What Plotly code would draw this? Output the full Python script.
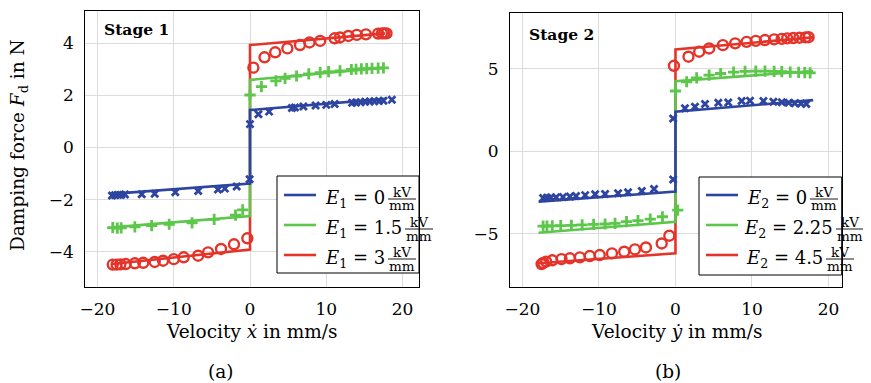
import plotly.graph_objects as go

# ---------------- data ----------------
# Stage 1 model lines (velocity in mm/s, force in N)
line1_v = [-18.1, 0.0, 0.0, 17.7]
line1_E0 = [-1.78, -1.38, 1.44, 1.87]
line1_E15 = [-3.07, -2.63, 2.60, 3.07]
line1_E3 = [-4.48, -3.92, 3.94, 4.39]

# Stage 1 measurements
meas1_E0_v = [-18.1, -17.7, -17.3, -16.9, -16.4, -14.2, -12.5, -9.8, -6.8, -4.2, -3.3, -1.75, -0.05,
              0.0, 1.1, 2.5, 5.5, 5.9, 7.0, 8.6, 10.0, 11.1, 13.4, 13.9, 14.5, 15.1, 15.7, 16.3, 16.9, 17.5, 18.6]
meas1_E0_F = [-1.84, -1.83, -1.82, -1.82, -1.81, -1.80, -1.78, -1.72, -1.67, -1.61, -1.58, -1.50, -1.22,
              0.90, 1.28, 1.38, 1.52, 1.54, 1.58, 1.62, 1.64, 1.67, 1.72, 1.73, 1.74, 1.76, 1.77, 1.78, 1.79, 1.80, 1.84]
meas1_E15_v = [-18.0, -17.4, -16.9, -15.1, -12.9, -10.6, -7.6, -4.7, -1.9, -0.96,
               0.0, 1.5, 3.4, 4.6, 6.1, 7.7, 9.2, 10.3, 11.8, 13.3, 13.9, 14.6, 15.3, 16.0, 16.8, 17.5]
meas1_E15_F = [-3.08, -3.10, -3.09, -3.05, -3.00, -2.95, -2.90, -2.76, -2.60, -2.40,
               2.02, 2.34, 2.56, 2.66, 2.75, 2.83, 2.88, 2.92, 2.95, 3.00, 3.01, 3.02, 3.03, 3.04, 3.05, 3.06]
meas1_E3_v = [-18.0, -17.5, -17.0, -16.3, -15.1, -14.0, -12.5, -11.4, -10.0, -8.7, -6.8, -5.5, -3.8, -2.1, -0.35,
              0.44, 1.9, 3.3, 4.9, 6.55, 7.8, 9.2, 11.1, 11.8, 12.9, 14.0, 15.2, 16.8, 17.3, 17.6, 17.9]
meas1_E3_F = [-4.50, -4.50, -4.49, -4.48, -4.45, -4.43, -4.40, -4.35, -4.29, -4.22, -4.16, -4.03, -3.90, -3.72, -3.49,
              3.07, 3.47, 3.66, 3.81, 3.94, 4.04, 4.10, 4.20, 4.23, 4.29, 4.33, 4.35, 4.38, 4.39, 4.39, 4.39]

# Stage 2 model lines
line2_v = [-17.9, 0.0, 0.0, 18.0]
line2_E0 = [-3.07, -2.46, 2.38, 3.09]
line2_E225 = [-4.95, -4.28, 4.24, 4.85]
line2_E45 = [-6.80, -6.20, 6.16, 6.89]

# Stage 2 measurements
meas2_E0_v = [-17.3, -16.8, -16.3, -15.6, -14.7, -13.8, -13.0, -11.8, -10.5, -9.2, -7.5, -6.2, -4.4, -2.8, -0.3,
              -0.3, 1.24, 2.55, 3.86, 5.6, 6.9, 8.65, 9.74, 11.5, 12.8, 13.9, 14.8, 15.6, 16.4, 17.1]
meas2_E0_F = [-2.85, -2.83, -2.82, -2.80, -2.78, -2.75, -2.72, -2.67, -2.62, -2.60, -2.56, -2.50, -2.42, -2.30, -1.72,
              1.98, 2.59, 2.69, 2.85, 2.93, 2.95, 3.03, 3.05, 3.03, 2.99, 2.96, 2.93, 2.90, 2.88, 2.85]
meas2_E225_v = [-17.3, -16.8, -16.1, -15.0, -13.6, -12.2, -10.7, -9.2, -7.9, -6.4, -4.9, -3.3, -1.7, 0.3,
                0.0, 1.46, 2.77, 4.4, 5.9, 7.6, 9.1, 10.5, 11.7, 12.9, 13.9, 15.0, 16.1, 16.9, 17.6]
meas2_E225_F = [-4.55, -4.54, -4.53, -4.52, -4.50, -4.47, -4.44, -4.42, -4.38, -4.28, -4.22, -4.12, -3.98, -3.58,
                3.64, 4.20, 4.44, 4.60, 4.70, 4.79, 4.83, 4.85, 4.85, 4.83, 4.81, 4.79, 4.77, 4.75, 4.74]
meas2_E45_v = [-17.5, -17.3, -16.9, -16.1, -14.9, -13.8, -12.5, -11.2, -9.9, -8.3, -6.7, -5.3, -3.86, -1.8, -0.8,
               -0.2, 1.7, 3.1, 4.4, 6.2, 7.8, 9.3, 10.5, 11.7, 12.9, 13.9, 14.6, 15.4, 16.2, 17.0, 17.4]
meas2_E45_F = [-6.85, -6.78, -6.70, -6.62, -6.55, -6.50, -6.44, -6.36, -6.30, -6.20, -6.10, -5.96, -5.84, -5.60, -5.13,
               5.17, 5.72, 6.02, 6.22, 6.42, 6.53, 6.62, 6.68, 6.73, 6.77, 6.80, 6.83, 6.85, 6.87, 6.89, 6.90]

x_ticks = [-20, -10, 0, 10, 20]
y1_ticks = [-4, -2, 0, 2, 4]
y2_ticks = [-5, 0, 5]
legend1_labels = ["0", "1.5", "3"]
legend2_labels = ["0", "2.25", "4.5"]

# ---------------- style ----------------
BLUE = "#2d44a0"
GREEN = "#5cc74a"
RED = "#e4342a"
FONT = "DejaVu Serif"
OFF = 8  # page body margin
W, H = 871 - OFF, 383 - OFF


def px(x):
    return (x - OFF) / W


def py(y):
    return 1 - (y - OFF) / H


fig = go.Figure()


def add_panel(xa, ya, lv, lines, meas):
    for (ly, col) in reversed(lines):
        fig.add_trace(go.Scatter(x=lv, y=ly, mode="lines", line=dict(color=col, width=2.6),
                                 xaxis=xa, yaxis=ya, showlegend=False, hoverinfo="skip"))
    for (mv, mf, col, sym, size, lw) in reversed(meas):
        fig.add_trace(go.Scatter(x=mv, y=mf, mode="markers",
                                 marker=dict(symbol=sym, size=size, color=col,
                                             line=dict(color=col, width=lw)),
                                 xaxis=xa, yaxis=ya, showlegend=False, hoverinfo="skip"))


add_panel("x", "y", line1_v,
          [(line1_E0, BLUE), (line1_E15, GREEN), (line1_E3, RED)],
          [(meas1_E0_v, meas1_E0_F, BLUE, "x-thin", 7, 2.8),
           (meas1_E15_v, meas1_E15_F, GREEN, "cross-thin", 8, 2.8),
           (meas1_E3_v, meas1_E3_F, RED, "circle-open", 10, 2.4)])
add_panel("x2", "y2", line2_v,
          [(line2_E0, BLUE), (line2_E225, GREEN), (line2_E45, RED)],
          [(meas2_E0_v, meas2_E0_F, BLUE, "x-thin", 7, 2.8),
           (meas2_E225_v, meas2_E225_F, GREEN, "cross-thin", 8, 2.8),
           (meas2_E45_v, meas2_E45_F, RED, "circle-open", 10, 2.4)])

axis_common = dict(showgrid=True, gridcolor="#dcdcdc", gridwidth=1, zeroline=False,
                   showline=True, linecolor="black", linewidth=1.2, mirror=True,
                   ticks="", automargin=False, ticklabelstandoff=7,
                   tickfont=dict(family=FONT, size=17, color="black"))

shapes = []
annotations = []


def legend(box, line_x, rows, frac_centers, sub, labels):
    x0, y0, x1, y1 = box
    shapes.append(dict(type="rect", xref="paper", yref="paper", x0=px(x0), x1=px(x1), y0=py(y0), y1=py(y1),
                       line=dict(color="black", width=1), fillcolor="white", layer="above"))
    for (ry, fc, lab, col) in zip(rows, frac_centers, labels, [BLUE, GREEN, RED]):
        shapes.append(dict(type="line", xref="paper", yref="paper", x0=px(line_x[0]), x1=px(line_x[1]),
                           y0=py(ry), y1=py(ry), line=dict(color=col, width=2.6), layer="above"))
        annotations.append(dict(xref="paper", yref="paper", x=px(fc - 15), y=py(ry + 4), xanchor="right",
                                yanchor="middle", showarrow=False,
                                text=f"<i>E</i><sub>{sub}</sub> = {lab}",
                                font=dict(family=FONT, size=18, color="black")))
        shapes.append(dict(type="line", xref="paper", yref="paper", x0=px(fc - 14), x1=px(fc + 14),
                           y0=py(ry + 4), y1=py(ry + 4), line=dict(color="black", width=0.9), layer="above"))
        annotations.append(dict(xref="paper", yref="paper", x=px(fc), y=py(ry - 3.5), xanchor="center",
                                yanchor="middle", showarrow=False, text="kV", borderpad=0,
                                font=dict(family=FONT, size=13.5, color="black")))
        annotations.append(dict(xref="paper", yref="paper", x=px(fc), y=py(ry + 10.5), xanchor="center",
                                yanchor="middle", showarrow=False, text="mm", borderpad=0,
                                font=dict(family=FONT, size=13.5, color="black")))


legend((277, 176, 419, 273), (284, 316), [195, 225, 255], [402, 419, 402], "1", legend1_labels)
legend((699, 177, 841.7, 275), (706, 738), [195, 225, 255], [824, 850, 840], "2", legend2_labels)

txt = dict(family=FONT, size=18.5, color="black")
annotations += [
    dict(xref="paper", yref="paper", x=px(102), y=py(29), xanchor="left", yanchor="middle", showarrow=False,
         text="<b>Stage 1</b>", font=dict(family=FONT, size=15.5, color="black")),
    dict(xref="paper", yref="paper", x=px(527), y=py(34), xanchor="left", yanchor="middle", showarrow=False,
         text="<b>Stage 2</b>", font=dict(family=FONT, size=15.5, color="black")),
    dict(xref="paper", yref="paper", x=px(252), y=py(331), xanchor="center", yanchor="middle", showarrow=False,
         text="Velocity <i>ẋ</i> in mm/s", font=txt),
    dict(xref="paper", yref="paper", x=px(677), y=py(331), xanchor="center", yanchor="middle", showarrow=False,
         text="Velocity <i>ẏ</i> in mm/s", font=txt),
    dict(xref="paper", yref="paper", x=px(220), y=py(371), xanchor="center", yanchor="middle", showarrow=False,
         text="(a)", font=txt),
    dict(xref="paper", yref="paper", x=px(668), y=py(371), xanchor="center", yanchor="middle", showarrow=False,
         text="(b)", font=txt),
    dict(xref="paper", yref="paper", x=px(19), y=py(145), xanchor="center", yanchor="middle", showarrow=False,
         textangle=-90, text="Damping force <i>F</i><sub>d</sub> in N", font=txt),
]

fig.update_layout(
    template="none",
    width=W, height=H,
    margin=dict(l=0, r=0, t=0, b=0),
    paper_bgcolor="white", plot_bgcolor="white",
    showlegend=False,
    xaxis=dict(domain=[px(85.3), px(419.3)], range=[-21.6, 22.2], tickvals=x_ticks, anchor="y", **axis_common),
    yaxis=dict(domain=[py(286.7), py(10.7)], range=[-5.35, 5.26], tickvals=y1_ticks, anchor="x", **axis_common),
    xaxis2=dict(domain=[px(510), px(841.7)], range=[-21.63, 21.73], tickvals=x_ticks, anchor="y2", **axis_common),
    yaxis2=dict(domain=[py(286.7), py(13.3)], range=[-8.22, 8.35], tickvals=y2_ticks, anchor="x2", **axis_common),
    shapes=shapes,
    annotations=annotations,
)

fig.write_html("out.html")
